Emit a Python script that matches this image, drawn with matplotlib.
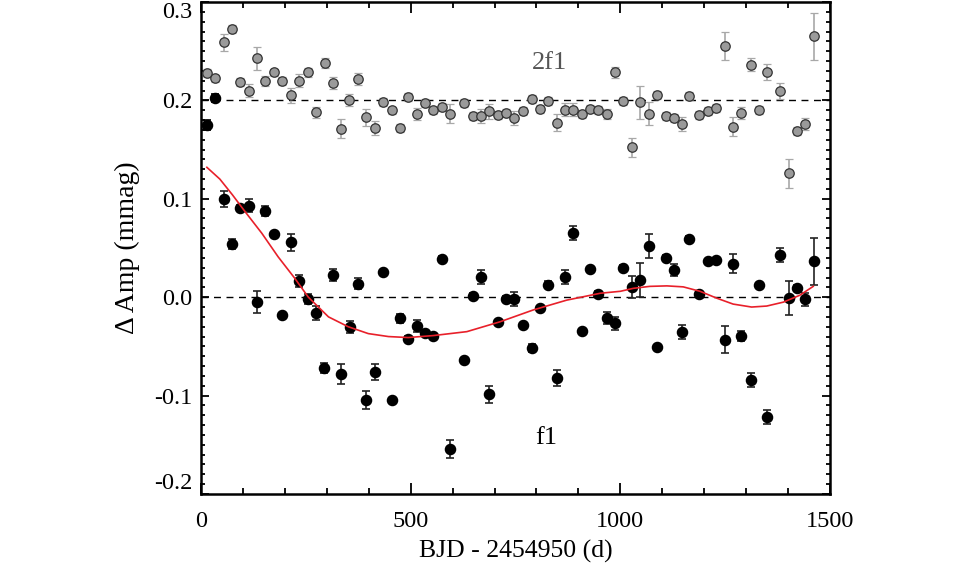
import matplotlib
matplotlib.use("Agg")
import matplotlib.pyplot as plt
from matplotlib.ticker import MultipleLocator

plt.rcParams['font.family'] = ['Liberation Serif', 'DejaVu Serif']

# ---- data ----
f2_t = [13.6, 33.4, 54.1, 73.9, 93.7, 113.8, 133.6, 153.3, 174.1, 193.9, 214.6, 234.4,
        254.5, 275.0, 295.0, 314.8, 334.6, 353.7, 374.5, 394.3, 415.0, 434.8, 454.8, 474.6,
        494.4, 514.4, 534.2, 554.0, 574.1, 593.9, 628.0, 648.0, 667.8, 687.6, 707.6, 727.4,
        747.2, 768.0, 788.7, 808.5, 828.3, 848.4, 868.2, 888.0, 908.0, 927.8, 947.5, 967.5,
        987.3, 1007.1, 1027.1, 1047.6, 1067.7, 1087.5, 1108.2, 1128.0, 1147.8, 1164.5, 1188.3,
        1208.3, 1228.9, 1248.9, 1269.4, 1288.5, 1310.9, 1331.4, 1350.5, 1380.8, 1402.2,
        1420.6, 1441.1, 1461.1]
f2_amp = [0.2277, 0.2223, 0.2592, 0.2728, 0.2190, 0.2099, 0.2426, 0.2200, 0.2284, 0.2200,
          0.2051, 0.2200, 0.2287, 0.1878, 0.2383, 0.2173, 0.1712, 0.2000, 0.2216, 0.1827,
          0.1719, 0.1987, 0.1898, 0.1719, 0.2034, 0.1865, 0.1973, 0.1898, 0.1932, 0.1865,
          0.1973, 0.1838, 0.1841, 0.1888, 0.1855, 0.1871, 0.1821, 0.1896, 0.2017, 0.1912,
          0.1993, 0.1774, 0.1905, 0.1905, 0.1865, 0.1909, 0.1905, 0.1865, 0.2284, 0.1993,
          0.1522, 0.1980, 0.1863, 0.2051, 0.1841, 0.1821, 0.1760, 0.2044, 0.1855, 0.1888,
          0.1919, 0.2551, 0.1733, 0.1875, 0.2362, 0.1905, 0.2288, 0.2095, 0.1259, 0.1685,
          0.1760, 0.2653]
f2_err = [0.004, 0.004, 0.0085, 0.004, 0.004, 0.0068, 0.0115, 0.005, 0.004, 0.004,
          0.008, 0.0068, 0.0047, 0.006, 0.005, 0.006, 0.0095, 0.006, 0.006, 0.009,
          0.0075, 0.004, 0.004, 0.004, 0.004, 0.006, 0.004, 0.004, 0.004, 0.0095,
          0.004, 0.004, 0.0068, 0.0075, 0.004, 0.004, 0.0068, 0.004, 0.004, 0.004,
          0.004, 0.0085, 0.0068, 0.0068, 0.004, 0.004, 0.004, 0.005, 0.006, 0.004,
          0.010, 0.0166, 0.0118, 0.004, 0.004, 0.004, 0.0068, 0.004, 0.004, 0.004,
          0.004, 0.014, 0.0098, 0.006, 0.0068, 0.004, 0.0085, 0.0085, 0.015, 0.004,
          0.006, 0.024]

f2b_t = [13.6, 33.4]
f2b_amp = [0.1749, 0.2020]
f2b_err = [0.005, 0.004]

f1_t = [54.1, 73.9, 93.7, 113.8, 133.6, 153.3, 174.1, 193.9, 214.6, 234.4, 254.5, 275.0,
        294.1, 314.8, 334.6, 354.5, 374.5, 394.3, 414.4, 434.1, 454.8, 474.6, 494.4, 514.4,
        534.2, 554.0, 574.1, 593.1, 628.0, 648.0, 667.8, 687.6, 707.6, 727.4, 747.2, 768.0,
        788.7, 808.5, 828.3, 848.4, 868.2, 888.0, 908.0, 927.8, 947.5, 967.5, 987.3, 1007.1,
        1027.1, 1047.6, 1067.7, 1087.5, 1108.2, 1128.0, 1147.8, 1164.5, 1188.3, 1208.3,
        1228.9, 1248.9, 1269.4, 1288.5, 1310.9, 1330.7, 1350.5, 1380.8, 1401.5, 1421.3,
        1441.1, 1461.1]
f1_amp = [0.0998, 0.0538, 0.0911, 0.0931, -0.0048, 0.0880, 0.0643, -0.0180, 0.0558, 0.0162,
          -0.0020, -0.0162, -0.0721, 0.0226, -0.0782, -0.0302, 0.0139, -0.1043, -0.0761,
          0.0261, -0.1046, -0.0216, -0.0426, -0.0292, -0.0363, -0.0396, 0.0389, -0.1546,
          -0.0643, 0.0010, 0.0206, -0.0988, -0.0254, -0.0017, -0.0017, -0.0284, -0.0518,
          -0.0112, 0.0129, -0.0819, 0.0206, 0.0653, -0.0342, 0.0287, 0.0037, -0.0213,
          -0.0267, 0.0294, 0.0104, 0.0173, 0.0518, -0.0511, 0.0400, 0.0274, -0.0355, 0.0592,
          0.0037, 0.0369, 0.0373, -0.0430, 0.0342, -0.0396, -0.0843, 0.0125, -0.1215, 0.0429,
          -0.0007, 0.0094, -0.0023, 0.0365]
f1_err = [0.0084, 0.005, 0.003, 0.0068, 0.011, 0.005, 0.002, 0.002, 0.0084, 0.006,
          0.005, 0.0068, 0.005, 0.006, 0.010, 0.006, 0.006, 0.009, 0.008, 0.002,
          0.002, 0.005, 0.003, 0.006, 0.003, 0.003, 0.003, 0.009, 0.003, 0.003,
          0.007, 0.009, 0.002, 0.003, 0.007, 0.002, 0.004, 0.002, 0.004, 0.008,
          0.007, 0.007, 0.002, 0.002, 0.003, 0.006, 0.007, 0.003, 0.011, 0.017,
          0.012, 0.003, 0.003, 0.006, 0.007, 0.003, 0.002, 0.002, 0.002, 0.014,
          0.010, 0.005, 0.007, 0.002, 0.007, 0.007, 0.017, 0.003, 0.007, 0.024]

fit_t = [14, 45, 75, 105, 145, 184, 224, 256, 304, 351, 399, 447, 494, 554, 634, 713, 792,
         872, 952, 1000, 1031, 1070, 1111, 1150, 1190, 1230, 1269, 1313, 1349, 1389, 1428, 1460]
fit_amp = [0.132, 0.120, 0.104, 0.087, 0.065, 0.041, 0.019, 0.000, -0.020, -0.030, -0.037,
           -0.040, -0.041, -0.039, -0.035, -0.025, -0.013, -0.003, 0.004, 0.006, 0.009,
           0.011, 0.0115, 0.0105, 0.006, -0.001, -0.007, -0.010, -0.009, -0.005, 0.002, 0.011]

xticks = [0, 500, 1000, 1500]
xtick_labels = ['0', '500', '1000', '1500']
yticks = [-0.2, -0.1, 0.0, 0.1, 0.2, 0.3]
ytick_labels = ['-0.2', '-0.1', '0.0', '0.1', '0.2', '0.3']

# ---- figure ----
fig = plt.figure(figsize=(9.6, 5.8), dpi=100)
ax = fig.add_axes([201/960, 86/580, 629/960, 492/580])

ax.axhline(0.0, color='black', lw=1.0, ls=(0, (5, 4)), zorder=1)
ax.axhline(0.2, color='black', lw=1.0, ls=(0, (5, 4)), zorder=1)

ax.errorbar(f2_t, f2_amp, yerr=f2_err, fmt='o', ms=6.8, mfc='#9a9a9a', mec='#333333',
            mew=0.9, ecolor='#a8a8a8', elinewidth=1.2, capsize=3, capthick=1.2, zorder=3)
ax.errorbar(f2b_t, f2b_amp, yerr=f2b_err, fmt='o', ms=7.3, mfc='black', mec='black',
            ecolor='black', elinewidth=1.2, capsize=3, capthick=1.2, zorder=3)
ax.errorbar(f1_t, f1_amp, yerr=f1_err, fmt='o', ms=7.3, mfc='black', mec='black',
            ecolor='#222222', elinewidth=1.2, capsize=3, capthick=1.2, zorder=3)
ax.plot(fit_t, fit_amp, color='#e8202a', lw=1.2, zorder=4)

ax.text(830, 0.238, '2f1', color='#555555', fontsize=19, ha='center', va='center')
ax.text(823, -0.143, 'f1', color='black', fontsize=19, ha='center', va='center')

ax.set_xlim(0, 1500)
ax.set_ylim(-0.2, 0.3)
ax.set_xticks(xticks, labels=xtick_labels)
ax.set_yticks(yticks, labels=ytick_labels)
ax.xaxis.set_minor_locator(MultipleLocator(100))
ax.yaxis.set_minor_locator(MultipleLocator(0.01))
ax.tick_params(which='both', direction='in', top=True, right=True, labelsize=17.5, width=1.3)
ax.tick_params(axis='x', which='major', length=8, pad=12)
ax.tick_params(axis='x', which='minor', length=4)
ax.tick_params(axis='y', which='major', length=6, pad=6)
ax.tick_params(axis='y', which='minor', length=3)
for s in ax.spines.values():
    s.set_linewidth(1.8)

ylbls = ax.get_yticklabels()
ylbls[-1].set_va('top')
ylbls[0].set_va('bottom')

ax.set_xlabel('BJD - 2454950 (d)', fontsize=18.5, labelpad=6)
ax.set_ylabel('Δ Amp (mmag)', fontsize=20, labelpad=10)

fig.savefig('out.png', dpi=100, facecolor='white')
